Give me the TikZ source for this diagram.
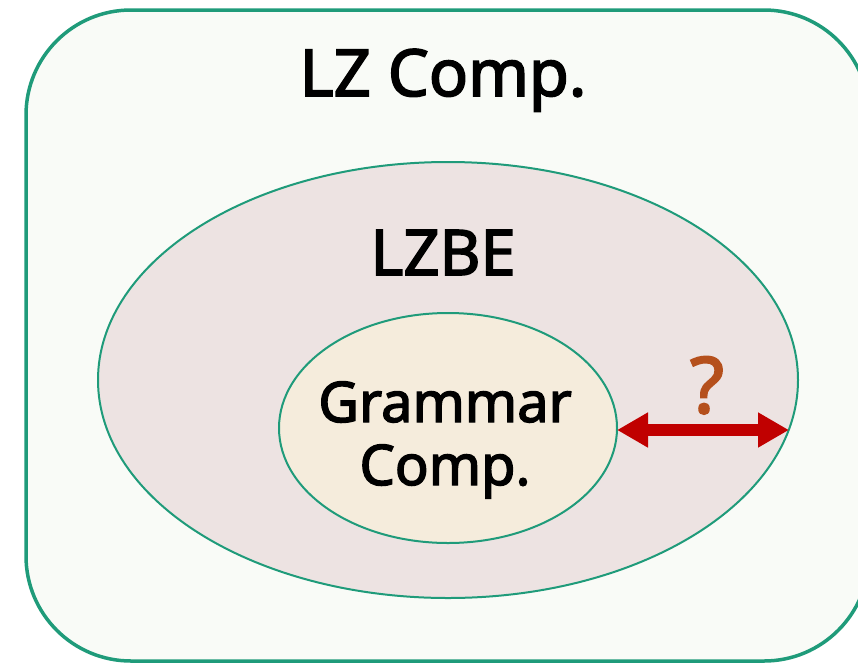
\documentclass[tikz,border=0pt]{standalone}
\usepackage{fontspec}
\setmainfont{Noto Sans}
\newfontfamily\heavyfont{Noto Sans}[FakeBold=2.5]
\usetikzlibrary{shapes.geometric,arrows.meta}
\definecolor{edgeteal}{HTML}{1F9B7A}
\definecolor{outerfill}{HTML}{F9FBF7}
\definecolor{midfill}{HTML}{EDE3E2}
\definecolor{innerfill}{HTML}{F5ECDC}
\definecolor{gapred}{HTML}{C00000}
\definecolor{qbrown}{HTML}{B5501C}
\tikzset{
  setbox/.style={draw=edgeteal, line width=3.5pt, fill=outerfill, rounded corners=105pt},
  setoval/.style={ellipse, draw=edgeteal, line width=2pt, inner sep=0pt},
  setlabel/.style={font=\heavyfont\fontsize{63}{70}\selectfont, inner sep=0pt, anchor=base},
  gaparrow/.style={gapred, line width=12pt, {Triangle[length=31pt,width=33pt]}-{Triangle[length=31pt,width=33pt]}},
}
\begin{document}
\begin{tikzpicture}[x=1pt,y=-1pt]
  \useasboundingbox (0,0) rectangle (858,664);
  \clip (0,0) rectangle (858,664);
  % outermost set
  \draw[setbox] (26,10) rectangle (869,661);
  \node[setlabel, font=\heavyfont\fontsize{65}{70}\selectfont] (lzcomp) at (443,96) {LZ Comp.};
  % middle set
  \node[setoval, fill=midfill, minimum width=700pt, minimum height=436pt] (lzbe) at (448,380) {};
  \node[setlabel] (lzbelabel) at (443,275) {LZBE};
  % inner set
  \node[setoval, fill=innerfill, minimum width=338pt, minimum height=230pt] (gram) at (448,428) {};
  \node[font=\heavyfont\fontsize{56}{63}\selectfont, align=center, inner sep=0pt, anchor=base] (gramlabel) at (445,485) {Grammar\\Comp.};
  % gap between the two sets
  \coordinate (gapend) at (789,430);
  \coordinate (gapstart) at (617,430);
  \draw[gaparrow] (gapstart) -- (gapend);
  \node[font=\heavyfont\fontsize{78}{80}\selectfont, text=qbrown, inner sep=0pt, anchor=base] (qmark) at (707,413) {?};
\end{tikzpicture}
\end{document}
